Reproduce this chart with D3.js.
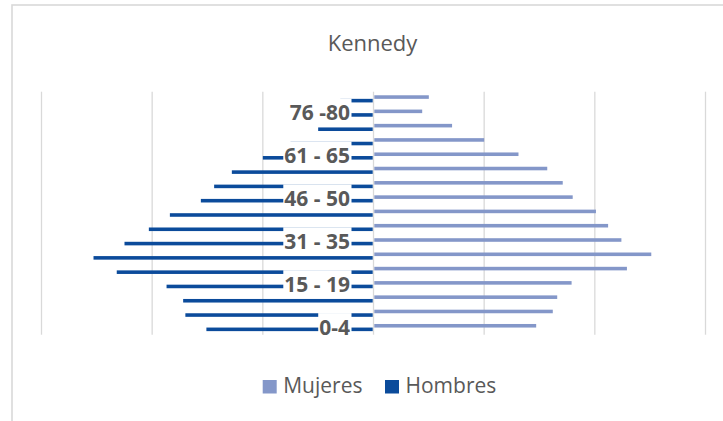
<!DOCTYPE html>
<html>
<head>
<meta charset="utf-8">
<script src="https://cdn.jsdelivr.net/npm/d3@7"></script>
<style>
  body { margin: 0; background: #fff; }
  svg { display: block; font-family: "Open Sans", sans-serif; }
</style>
</head>
<body>
<div id="chart"></div>
<script>
// age groups, bottom to top
var groups = ["0-4", "5 - 9", "10 - 14", "15 - 19", "20 - 25", "26 - 30", "31 - 35", "36 - 40",
    "41 - 45", "46 - 50", "51 - 55", "56 - 60", "61 - 65", "66 - 70", "71 - 75", "76 -80", "81 +"];
var mujeres = [147, 162, 166, 179, 229, 251, 224, 212, 201, 180, 171, 157, 131, 100, 71, 44, 50];
var hombres = [151, 170, 172, 187, 232, 253, 225, 203, 184, 156, 144, 128, 100, 75, 50, 35, 30];
var series = ["Mujeres", "Hombres"];
var gridTicks = [-300, -200, -100, 0, 100, 200, 300];

var color = { "Mujeres": "#8497c9", "Hombres": "#0b4b9b" };

var W = 723, H = 421;
var svg = d3.select("#chart").append("svg").attr("width", W).attr("height", H);

// chart border
svg.append("rect").attr("x", 12).attr("y", 5).attr("width", W).attr("height", H)
    .attr("fill", "#fff").attr("stroke", "#d9d9d9").attr("stroke-width", 1.6);

var x = d3.scaleLinear().domain([-300, 300]).range([41.5, 705.5]);
var y = d3.scaleBand().domain(groups).range([334.7, 91.7]).paddingInner(0.5).paddingOuter(0.25);
var ySub = d3.scaleBand().domain(series).range([0, y.bandwidth()]);

// gridlines
svg.append("g").selectAll("line").data(gridTicks).join("line")
    .attr("x1", d => x(d)).attr("x2", d => x(d))
    .attr("y1", 91.7).attr("y2", 334.7)
    .attr("stroke", "#d9d9d9").attr("stroke-width", 1.3);

var rows = groups.map((g, i) => ({ g: g, i: i, Mujeres: mujeres[i], Hombres: hombres[i] }));

var bars = svg.append("g");
bars.selectAll(".m").data(rows).join("rect").attr("class", "m")
    .attr("x", x(0) + 0.8)
    .attr("y", d => y(d.g) + ySub("Mujeres"))
    .attr("width", d => x(d.Mujeres) - x(0) - 0.8)
    .attr("height", ySub.bandwidth())
    .attr("fill", color.Mujeres);
bars.selectAll(".h").data(rows).join("rect").attr("class", "h")
    .attr("x", d => x(-d.Hombres))
    .attr("y", d => y(d.g) + ySub("Hombres"))
    .attr("width", d => x(0) - x(-d.Hombres) - 0.8)
    .attr("height", ySub.bandwidth())
    .attr("fill", color.Hombres);

// category labels, every third one, with white box like excel
var lab = svg.append("g").selectAll("g").data(rows.filter(d => d.i % 3 == 0)).join("g");
lab.append("rect").attr("fill", "#fff");
lab.append("text")
    .attr("x", 350).attr("y", d => y(d.g) + y.bandwidth() / 2)
    .attr("dy", "0.35em")
    .attr("text-anchor", "end")
    .attr("font-size", 21).attr("font-weight", "bold").attr("fill", "#595959")
    .text(d => d.g);
lab.each(function(d) {
    var b = d3.select(this).select("text").node().getBBox();
    var cy = y(d.g) + y.bandwidth() / 2;
    d3.select(this).select("rect")
        .attr("x", b.x - 1).attr("width", 351.5 - b.x + 1)
        .attr("y", cy - 14.5).attr("height", 23.5);
});

// title
svg.append("text").attr("x", 372.5).attr("y", 51).attr("text-anchor", "middle")
    .attr("font-size", 22).attr("fill", "#595959").text("Kennedy");

// legend
var legX = [262.7, 385];
var leg = svg.append("g").selectAll("g").data(series).join("g")
    .attr("transform", (d, i) => "translate(" + legX[i] + ",380)");
leg.append("rect").attr("width", 14).attr("height", 13.5).attr("fill", d => color[d]);
leg.append("text").attr("x", 20.5).attr("y", 13.3)
    .attr("font-size", 21).attr("fill", "#595959").text(d => d);
</script>
</body>
</html>
